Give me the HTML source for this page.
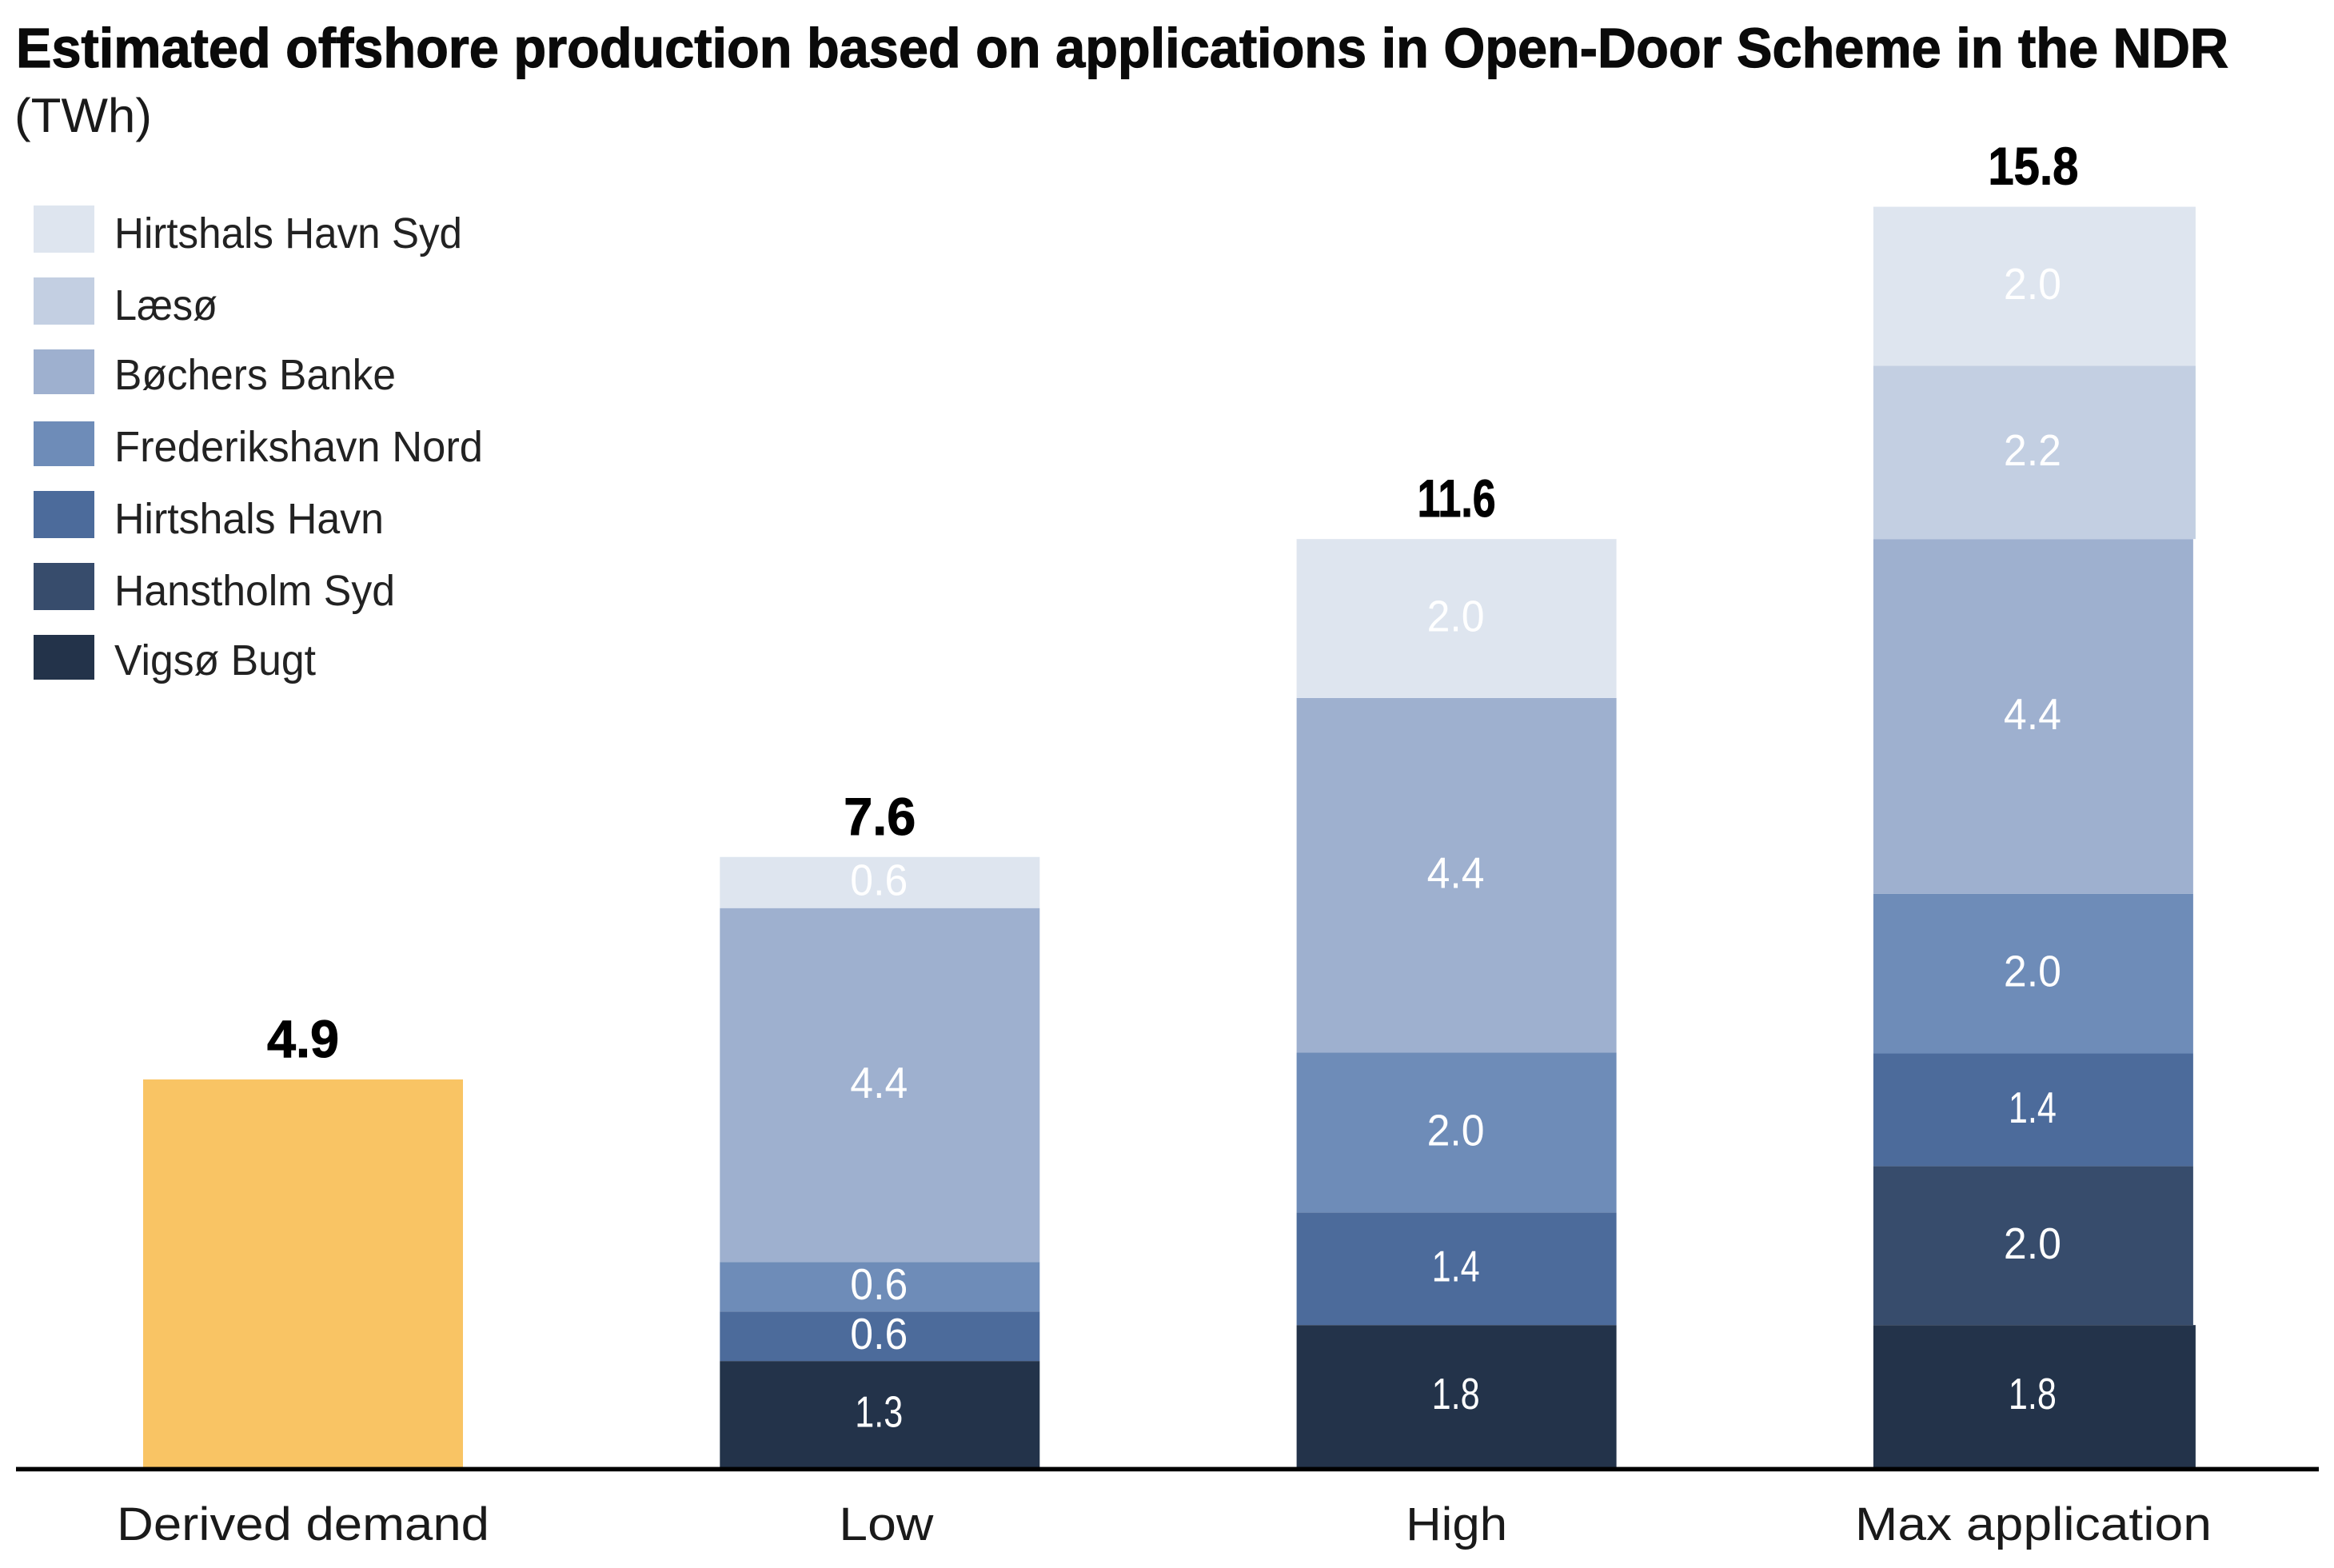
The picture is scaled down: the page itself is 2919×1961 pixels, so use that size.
<!DOCTYPE html>
<html lang="en">
<head>
<meta charset="utf-8">
<title>Estimated offshore production</title>
<style>
  html, body { margin: 0; padding: 0; background: #fff; width: 2919px; height: 1961px; overflow: hidden; }
  svg { display: block; }
  text { font-family: "Liberation Sans", sans-serif; }
</style>
</head>
<body>
<svg id="chart" xmlns="http://www.w3.org/2000/svg" width="2919" height="1961" viewBox="0 0 2919 1961">
  <rect x="0" y="0" width="2919" height="1961" fill="#ffffff"/>
  <text x="20" y="84" font-size="70" font-weight="700" fill="#0a0a0a" stroke="#0a0a0a" stroke-width="1.2" textLength="2767" lengthAdjust="spacingAndGlyphs">Estimated offshore production based on applications in Open-Door Scheme in the NDR</text>
  <text x="18" y="165" font-size="60" fill="#1a1a1a" textLength="172" lengthAdjust="spacingAndGlyphs">(TWh)</text>

  <g>
    <g>
      <rect x="42" y="257" width="76" height="59" fill="#DEE5EF"/>
      <text x="143" y="310" font-size="54" fill="#222222" textLength="435" lengthAdjust="spacingAndGlyphs">Hirtshals Havn Syd</text>
    </g>
    <g>
      <rect x="42" y="347" width="76" height="59" fill="#C3CFE2"/>
      <text x="143" y="400" font-size="54" fill="#222222" textLength="129" lengthAdjust="spacingAndGlyphs">Læsø</text>
    </g>
    <g>
      <rect x="42" y="437" width="76" height="56" fill="#9EB0CF"/>
      <text x="143" y="487" font-size="54" fill="#222222" textLength="352" lengthAdjust="spacingAndGlyphs">Bøchers Banke</text>
    </g>
    <g>
      <rect x="42" y="527" width="76" height="56" fill="#6E8CB8"/>
      <text x="143" y="577" font-size="54" fill="#222222" textLength="461" lengthAdjust="spacingAndGlyphs">Frederikshavn Nord</text>
    </g>
    <g>
      <rect x="42" y="614" width="76" height="59" fill="#4C6B9B"/>
      <text x="143" y="667" font-size="54" fill="#222222" textLength="337" lengthAdjust="spacingAndGlyphs">Hirtshals Havn</text>
    </g>
    <g>
      <rect x="42" y="704" width="76" height="59" fill="#374C6C"/>
      <text x="143" y="757" font-size="54" fill="#222222" textLength="351" lengthAdjust="spacingAndGlyphs">Hanstholm Syd</text>
    </g>
    <g>
      <rect x="42" y="794" width="76" height="56" fill="#23334A"/>
      <text x="143" y="844" font-size="54" fill="#222222" textLength="252" lengthAdjust="spacingAndGlyphs">Vigsø Bugt</text>
    </g>
  </g>
  <g id="bars"></g>
  <g id="segment-labels"></g>
  <g id="total-labels"></g>
  <rect x="20" y="1834.6" width="2880" height="5.6" fill="#000000"/>
  <g id="category-labels"></g>
</svg>
<script>
// Chart data (TWh)
const categories = ["Derived demand", "Low", "High", "Max application"];
const derivedDemand = [4.855, 0, 0, 0];
const vigsoBugt = [0, 1.33, 1.78, 1.78];
const hanstholmSyd = [0, 0, 0, 1.99];
const hirtshalsHavn = [0, 0.62, 1.41, 1.41];
const frederikshavnNord = [0, 0.62, 2.0, 2.0];
const bochersBanke = [0, 4.43, 4.44, 4.44];
const laeso = [0, 0, 0, 2.17];
const hirtshalsHavnSyd = [0, 0.64, 1.99, 1.99];

const SVG_NS = "http://www.w3.org/2000/svg";

// Series in stacking order, bottom to top
const stack = [
  { key: "derived-demand", values: derivedDemand, color: "#F9C464", labelled: false },
  { key: "vigso-bugt", values: vigsoBugt, color: "#23334A", labelled: true },
  { key: "hanstholm-syd", values: hanstholmSyd, color: "#374C6C", labelled: true },
  { key: "hirtshals-havn", values: hirtshalsHavn, color: "#4C6B9B", labelled: true },
  { key: "frederikshavn-nord", values: frederikshavnNord, color: "#6E8CB8", labelled: true },
  { key: "bochers-banke", values: bochersBanke, color: "#9EB0CF", labelled: true },
  { key: "laeso", values: laeso, color: "#C3CFE2", labelled: true },
  { key: "hirtshals-havn-syd", values: hirtshalsHavnSyd, color: "#DEE5EF", labelled: true }
];

// Axis functions
const BASELINE = 1835;
const UNIT = 99.9;
const BAR_WIDTH = 400;
function yScale(v) { return BASELINE - v * UNIT; }
function xCenter(i) { return 379 + i * 721.3; }

function fitText(el, width) {
  el.setAttribute("textLength", width);
  el.setAttribute("lengthAdjust", "spacingAndGlyphs");
}

// The reference face has a narrow "1", so total labels are fitted per character
function totalLabelWidth(text) {
  let w = 0;
  for (const ch of text) {
    w += ch === "1" ? 23 : (ch === "." ? 14 : 38);
  }
  return w;
}

const barsLayer = document.getElementById("bars");
const segLayer = document.getElementById("segment-labels");
const totalLayer = document.getElementById("total-labels");
const catLayer = document.getElementById("category-labels");

const categoryLabelWidths = { "Derived demand": 466, "Low": 118, "High": 127, "Max application": 446 };

categories.forEach(function (cat, i) {
  const cx = xCenter(i);
  let running = 0;

  stack.forEach(function (series) {
    const v = series.values[i];
    if (!v) { return; }
    const yTop = yScale(running + v);
    const yBottom = yScale(running);
    const overhang = (i === 3 && (series.key === "vigso-bugt" || series.key === "laeso" || series.key === "hirtshals-havn-syd")) ? 3 : 0;

    const rect = document.createElementNS(SVG_NS, "rect");
    rect.setAttribute("x", cx - BAR_WIDTH / 2);
    rect.setAttribute("y", yTop);
    rect.setAttribute("width", BAR_WIDTH + overhang);
    rect.setAttribute("height", yBottom - yTop);
    rect.setAttribute("fill", series.color);
    
    
    barsLayer.appendChild(rect);

    if (series.labelled) {
      const text = v.toFixed(1);
      const label = document.createElementNS(SVG_NS, "text");
      label.setAttribute("x", cx - 1);
      label.setAttribute("y", (yTop + yBottom) / 2 + 16);
      label.setAttribute("text-anchor", "middle");
      label.setAttribute("font-size", "55");
      label.setAttribute("fill", "#ffffff");
      fitText(label, text.charAt(0) === "1" ? 60 : 72);
      
      
      label.textContent = text;
      segLayer.appendChild(label);
    }
    running += v;
  });

  const totalText = running.toFixed(1);
  const total = document.createElementNS(SVG_NS, "text");
  total.setAttribute("x", cx);
  total.setAttribute("y", yScale(running) - 28);
  total.setAttribute("text-anchor", "middle");
  total.setAttribute("font-size", "66");
  total.setAttribute("font-weight", "700");
  total.setAttribute("fill", "#000000");
  total.setAttribute("stroke", "#000000");
  total.setAttribute("stroke-width", "1");
  fitText(total, totalLabelWidth(totalText));
  
  
  total.textContent = totalText;
  totalLayer.appendChild(total);

  const catLabel = document.createElementNS(SVG_NS, "text");
  catLabel.setAttribute("x", cx + (i === 1 ? 8 : 0));
  catLabel.setAttribute("y", 1926);
  catLabel.setAttribute("text-anchor", "middle");
  catLabel.setAttribute("font-size", "58");
  catLabel.setAttribute("fill", "#1a1a1a");
  fitText(catLabel, categoryLabelWidths[cat]);
  
  
  catLabel.textContent = cat;
  catLayer.appendChild(catLabel);
});
</script>
</body>
</html>
